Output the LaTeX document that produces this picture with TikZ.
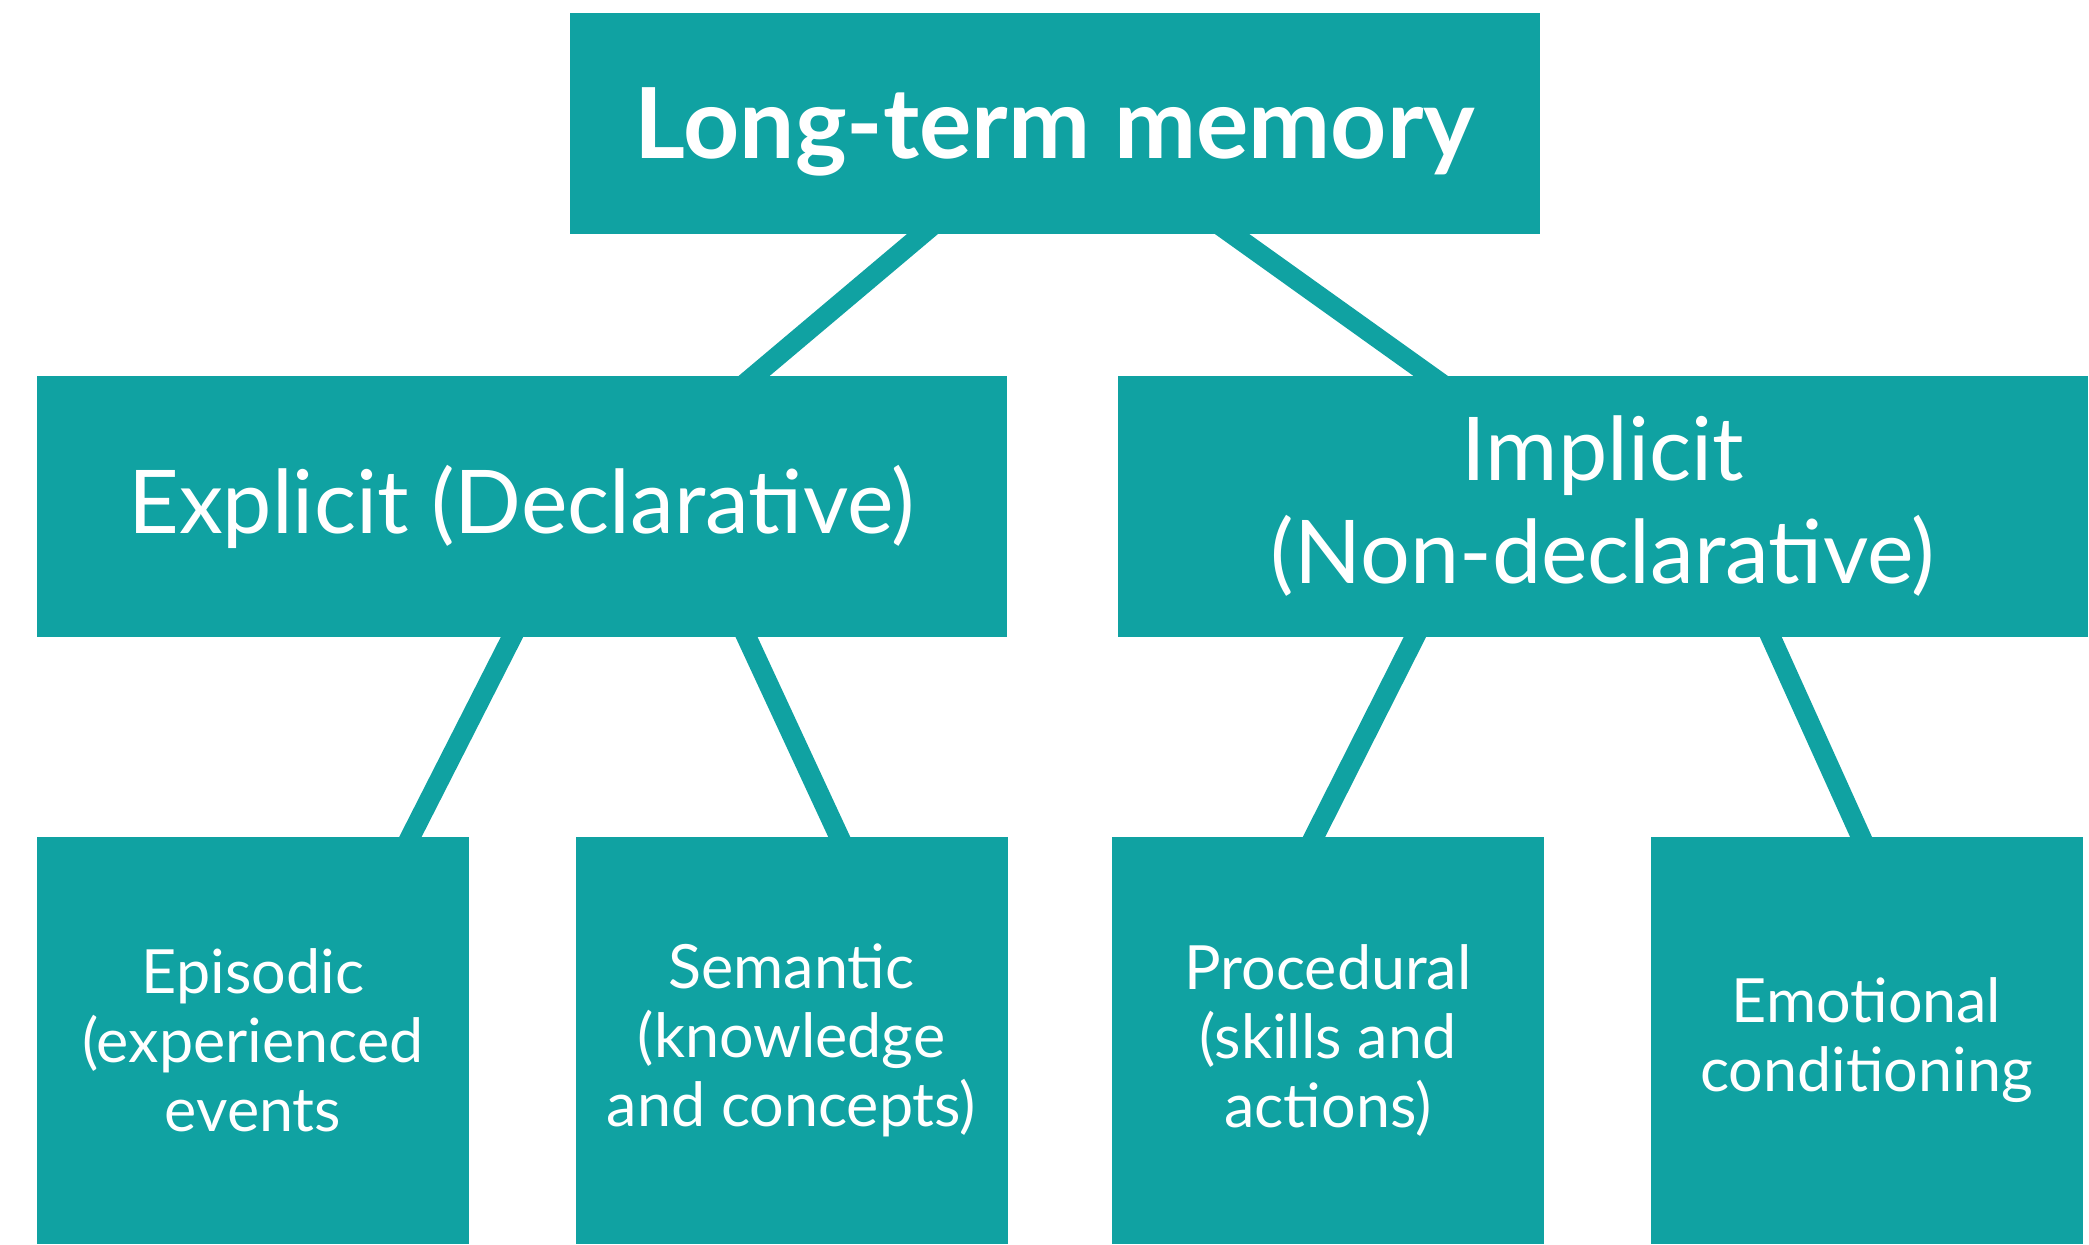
\documentclass[tikz,border=0pt]{standalone}
\usepackage{fontspec}
\setmainfont{Lato}
\usetikzlibrary{calc}
\definecolor{memteal}{HTML}{10A2A2}
\pgfdeclarelayer{background}
\pgfsetlayers{background,main}

\begin{document}
\begin{tikzpicture}
[ x=0.5pt, y=-0.5pt
, box/.style={rectangle, fill=memteal, text=white, align=center, inner sep=0pt}
, rootbox/.style={box, minimum width=485pt, minimum height=110.5pt, text depth=0pt, font=\bfseries\fontsize{49}{58}\selectfont}
, branchbox/.style={box, minimum width=485pt, minimum height=130.5pt, font=\fontsize{44}{51.5}\selectfont}
, leafbox/.style={box, minimum width=216pt, minimum height=203.5pt, font=\fontsize{30.5}{34.5}\selectfont}
, link/.style={line width=10pt, memteal, shorten <=-10pt, shorten >=-10pt}
]
\useasboundingbox (0,0) rectangle (2089,1244);
% Top level:
\node (ltm) [rootbox] at (1055,123.5) {Long-term memory};
% Second level:
\node (expl) [branchbox] at (521.5,506.5) {Explicit (Declarative)};
\node (impl) [branchbox] at (1603,506.5) {Implicit\\(Non-declarative)};
% Third level:
\node (epis) [leafbox] at (253,1040.5) {Episodic\\(experienced\\events};
\node (sema) [leafbox] at (791.5,1040.5) {Semantic\\(knowledge\\and concepts)};
\node (proc) [leafbox] at (1328,1040.5) {Procedural\\(skills and\\actions)};
\node (emot) [leafbox] at (1866.5,1040.5) {Emotional\\conditioning};
\begin{pgfonlayer}{background}
\draw [link] ($(ltm.south west)!0.363!(ltm.south east)$) -- ($(expl.north west)!0.740!(expl.north east)$);
\draw [link] ($(ltm.south west)!0.683!(ltm.south east)$) -- ($(impl.north west)!0.322!(impl.north east)$);
\draw [link] ($(expl.south west)!0.490!(expl.south east)$) -- ($(epis.north west)!0.864!(epis.north east)$);
\draw [link] ($(expl.south west)!0.732!(expl.south east)$) -- ($(sema.north west)!0.610!(sema.north east)$);
\draw [link] ($(impl.south west)!0.306!(impl.south east)$) -- ($(proc.north west)!0.468!(proc.north east)$);
\draw [link] ($(impl.south west)!0.673!(impl.south east)$) -- ($(emot.north west)!0.487!(emot.north east)$);
\end{pgfonlayer}
\end{tikzpicture}
\end{document}
